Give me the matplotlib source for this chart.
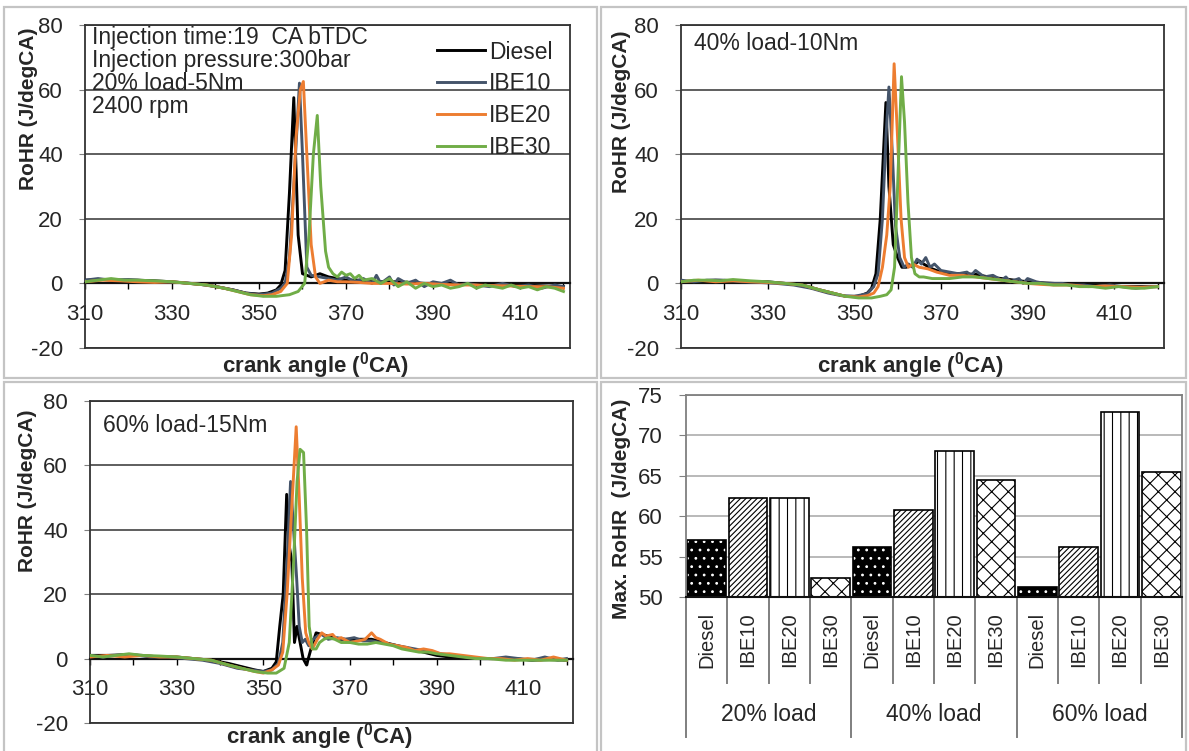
import numpy as np
import matplotlib.pyplot as plt
from matplotlib.patches import Rectangle
from matplotlib.transforms import blended_transform_factory

plt.rcParams['font.family'] = ['Liberation Sans', 'DejaVu Sans']
plt.rcParams['mathtext.fontset'] = 'custom'
plt.rcParams['mathtext.rm'] = 'Liberation Sans'
plt.rcParams['mathtext.bf'] = 'Liberation Sans:bold'
plt.rcParams['hatch.linewidth'] = 0.8
plt.rcParams['axes.unicode_minus'] = False

W, H = 1189, 751

# ---- data ----
fuels = ['Diesel', 'IBE10', 'IBE20', 'IBE30']
colors = ['#000000', '#44546A', '#ED7D31', '#70AD47']

# 20% load - 5 Nm
ang_d20 = [310, 314, 318, 322, 326, 330, 334, 338, 341, 344, 347, 350, 352, 354, 355, 356, 357, 358, 359, 360,
           361, 362, 364, 365, 366, 368, 370, 373, 376, 379, 382, 385, 388, 391, 394, 397, 400, 404, 408, 412, 416, 420]
rohr_d20 = [1, 1.2, 1, 1, 0.8, 0.5, 0, -0.5, -1.2, -2, -3, -3.3, -3, -2, -0.5, 4, 28, 57.5, 15, 3,
            2.5, 2, 3, 2.5, 2, 1.5, 1, 1, 0.5, 0.5, 0.5, 0.3, 0, 0, -0.2, -0.2, -0.3, -0.5, -0.5, -0.6, -0.8, -1]
ang_b20 = [310, 313, 316, 320, 324, 328, 332, 336, 340, 344, 347, 350, 353, 355, 356, 357, 358, 359.3, 360, 361,
           362, 364, 366, 368, 370, 372, 374, 376, 377, 378, 380, 381, 382, 384, 386, 388, 390, 392, 394, 396,
           398, 400, 403, 406, 409, 412, 415, 418, 420]
rohr_b20 = [1, 1.5, 1, 1.2, 0.8, 0.5, 0.3, -0.2, -1, -2, -3, -3.5, -3, -1.5, 0, 8, 30, 62, 40, 5,
            2.5, 2, 1.5, 1, 2, 0.5, 1.5, 0, 2.5, 0, 2, -0.5, 1.5, 0, 1, -1, 0.5, 0, 1, -0.5,
            0, -0.5, -1, 0, -1, -0.5, -1.5, -0.5, -1]
ang_o20 = [310, 314, 318, 322, 326, 330, 334, 338, 342, 345, 348, 351, 353, 355, 356.5, 357.5, 358.5, 359.5, 360.2,
           361, 362, 363, 364, 366, 368, 370, 373, 376, 380, 384, 388, 392, 396, 400, 404, 408, 412, 416, 420]
rohr_o20 = [0.5, 1, 0.8, 0.5, 0.3, 0.5, 0, -0.5, -1.5, -2.5, -3.5, -3.8, -3.5, -2.5, 0, 15, 45, 60, 62.5,
            40, 12, 2, 0, 1, 0.5, 0.5, 0.3, 0, 0, -0.2, 0, -0.3, -0.5, -0.5, -0.7, -0.8, -1, -1, -1.5]
ang_g20 = [310, 313, 316, 319, 322, 326, 330, 334, 338, 342, 345, 348, 351, 354, 357, 359, 360.5, 361.5, 362.5,
           363.4, 364.2, 365.3, 366, 367, 368, 369, 370, 371, 372, 373, 374, 376, 378, 380, 382, 384, 386, 388,
           390, 392, 394, 396, 398, 400, 402, 404, 406, 408, 410, 412, 414, 416, 418, 420]
rohr_g20 = [0.5, 1, 1.5, 1, 1, 0.8, 0.5, 0, -0.5, -1.5, -2.5, -3.5, -4, -4, -3.5, -2.5, 0, 15, 40,
            52, 30, 10, 5, 3, 2, 3.5, 2.5, 3, 1.5, 2.5, 1, 1.5, 0, 1.5, -1, 0.5, -1.5, 0,
            -1, -0.5, -1.5, -1, 0, -1.5, -0.5, -1, -1.5, -0.5, -1.5, -1, -2, -1, -1.5, -2.5]

# 40% load - 10 Nm
ang_d40 = [310, 314, 318, 322, 326, 330, 334, 338, 342, 345, 348, 351, 353, 354, 355, 356, 357.3, 358, 359, 360,
           361, 362, 363, 364, 365, 366, 368, 370, 372, 375, 378, 381, 384, 387, 390, 393, 396, 400, 404, 408,
           412, 416, 420]
rohr_d40 = [0.5, 0.8, 1, 0.8, 0.5, 0.5, 0, -0.5, -2, -3, -4, -4, -3, -1.5, 3, 20, 56, 30, 12, 8,
            5, 5, 5.5, 6, 7, 6, 4.5, 3.5, 3, 3, 2.8, 2, 1.5, 1, 0.5, 0.2, 0, -0.3, -0.5, -0.8,
            -1, -1, -1]
ang_b40 = [310, 313, 316, 320, 324, 328, 332, 336, 340, 344, 347, 350, 353, 354.5, 355.5, 356.5, 357.3, 358, 358.8,
           359.5, 360.5, 361.5, 362.5, 363.5, 364.5, 365.5, 366.5, 367.5, 368.5, 370, 372, 374, 376, 377, 378,
           380, 382, 384, 385, 386, 388, 389, 390, 392, 394, 396, 398, 400, 403, 406, 409, 412, 415, 418, 420]
rohr_b40 = [1, 0.5, 1, 1, 0.5, 0.3, 0, -0.5, -1.5, -3, -3.8, -4, -3.2, -1, 3, 20, 45, 60.8, 40,
            18, 8, 5, 6, 5, 7.5, 6, 8, 5, 6, 4, 3.5, 3, 3.5, 2.5, 4,
            2, 2.5, 1, 2, 0.5, 1.5, 0, 1.5, 0.5, 0, 0, 0, -0.5, -0.5, -1, -0.5, -1, -1.5, -1, -1]
ang_o40 = [310, 314, 318, 322, 326, 330, 334, 338, 342, 345, 348, 351, 353, 354.5, 355.5, 356.5, 357.5, 358.3,
           359.2, 360, 360.8, 361.6, 362.5, 363.5, 365, 367, 369, 372, 375, 378, 381, 384, 387, 390, 393, 396,
           400, 404, 408, 412, 416, 420]
rohr_o40 = [0.5, 1, 0.5, 0.8, 0.5, 0.3, 0, -0.5, -2, -3, -4, -4.2, -3.8, -3, -1, 5, 15, 30,
            68, 45, 20, 8, 5, 6, 5, 4.5, 3.5, 2.5, 2.5, 2, 1.5, 1, 0.5, 0, -0.3, -0.5,
            -0.5, -1, -0.8, -1, -1.2, -1]
ang_g40 = [310, 313, 316, 319, 322, 326, 330, 334, 338, 342, 345, 348, 351, 354, 356, 357.5, 358.5, 359.3, 360,
           360.9, 361.6, 362.4, 363.2, 364, 365, 366, 368, 370, 372, 375, 378, 381, 384, 387, 390, 393, 396,
           399, 402, 405, 408, 411, 414, 417, 420]
rohr_g40 = [0.5, 1, 1, 0.8, 1.2, 0.8, 0.5, 0, -0.5, -2, -3, -4, -4.5, -4.5, -4, -3.5, -2, 5, 30,
            64, 50, 25, 8, 3, 2, 2, 1.5, 1.5, 1.5, 2, 2, 1.5, 1, 0.5, 0, 0, -0.5,
            -0.5, -1, -1, -1.5, -1, -1.5, -1.5, -1]

# 60% load - 15 Nm
ang_d60 = [310, 314, 318, 322, 326, 330, 334, 338, 342, 345, 348, 350, 352, 353, 353.8, 354.6, 355.4, 356, 356.6,
           357.2, 357.8, 358.5, 359.2, 360, 361, 362.2, 363.5, 365, 367, 369, 372, 375, 378, 381, 384, 387,
           390, 393, 396, 400, 404, 408, 412, 416, 420]
rohr_d60 = [1, 1, 1.2, 1, 0.5, 0.5, 0, -0.5, -1.5, -2.5, -3.5, -4, -3, -1, 10, 20, 51, 35, 30,
            5, 10, 5, 0, -2, 3, 8, 7.5, 7, 6, 6, 6, 6, 5, 4, 3, 2,
            1, 0.5, 0.5, 0, 0, 0, -0.5, -0.3, -0.5]
ang_b60 = [310, 313, 316, 320, 324, 328, 332, 336, 340, 344, 347, 350, 352, 353.5, 354.5, 355.5, 356.3, 357,
           357.7, 358.3, 359, 359.7, 360.5, 361.5, 362.5, 363.5, 365, 367, 369, 371, 373, 375, 377, 379, 381,
           383, 385, 387, 389, 391, 394, 397, 400, 403, 406, 409, 412, 415, 418, 420]
rohr_b60 = [1, 0.5, 1, 1.2, 0.5, 0.5, 0, -0.5, -1.5, -3, -3.5, -4, -3.5, -1.5, 5, 30, 55, 40,
            25, 10, 5, 6, 4, 6, 7, 7.5, 6, 6.5, 6, 6.5, 5.5, 5.5, 5, 4.5, 4,
            3.5, 3, 2.5, 2, 1.5, 1, 0.5, 0, 0, 0.5, 0, -0.5, 0.5, -0.5, 0]
ang_o60 = [310, 314, 318, 322, 326, 330, 334, 338, 342, 345, 348, 350, 352, 353.5, 354.5, 355.5, 356.5, 357.6,
           358.3, 359, 359.8, 360.5, 361.3, 362.5, 363.5, 364.5, 366, 367, 368, 370, 372, 373.5, 375, 376,
           377, 379, 381, 383, 385, 387, 389, 391, 393, 396, 399, 402, 405, 408, 411, 414, 417, 420]
rohr_o60 = [0.5, 1, 0.5, 1, 0.5, 0.5, 0, -0.5, -2, -3, -4, -4.5, -3.5, -2, 2, 20, 45, 72,
            50, 25, 8, 5, 3, 6, 8, 7, 7.5, 6, 6.5, 5, 5.5, 6, 8, 6.5,
            6, 4.5, 4, 3.5, 2.5, 3, 2.5, 1.5, 1.5, 1, 0.5, 0, 0, -0.5, 0, -0.5, 0.5, -0.5]
ang_g60 = [310, 313, 316, 319, 322, 326, 330, 334, 338, 342, 345, 348, 351, 353, 354.8, 356, 357, 357.8, 358.5,
           359.3, 360, 360.6, 361.4, 362.2, 363, 364, 365, 366.5, 368, 370, 372, 374, 376, 378, 380, 382,
           384, 386, 388, 390, 393, 396, 399, 402, 406, 410, 414, 418, 420]
rohr_g60 = [1, 0.5, 1, 1.5, 1, 0.8, 0.5, 0, -0.5, -2, -3, -4, -4.5, -4.5, -3, 5, 30, 55, 65,
            64, 40, 10, 3, 3, 5, 6, 6.5, 6, 5, 5, 4.5, 4.5, 5, 4.5, 4, 3,
            2.5, 2, 2, 1.5, 1, 0.5, 0, 0, -0.5, -0.5, -0.5, -0.5, -0.5]

# maximum RoHR bar chart
loads = ['20% load', '40% load', '60% load']
max_20 = [57.1, 62.2, 62.3, 52.4]
max_40 = [56.2, 60.8, 68.1, 64.5]
max_60 = [51.2, 56.2, 72.9, 65.5]

TXT = '#262626'

fig = plt.figure(figsize=(W / 100, H / 100), dpi=100)


def px_axes(left, top, right, bottom):
    return fig.add_axes([left / W, 1 - bottom / H, (right - left) / W, (bottom - top) / H])


# grey panel frames
for (l, t, r, b) in [(4, 7, 597, 378), (601, 7, 1186, 378), (4, 382, 597, 770), (601, 382, 1186, 770)]:
    fig.patches.append(Rectangle((l / W, 1 - b / H), (r - l) / W, (b - t) / H, transform=fig.transFigure,
                                 fill=False, ec='#c4c4c4', lw=1.6))


def rohr_panel(ax, curves, ylab_xy, xlab_y):
    for (ang, val), name, col in zip(curves, fuels, colors):
        ax.plot(ang, val, color=col, lw=2.1, label=name, zorder=3)
    ax.set_xlim(310, 421.5)
    ax.set_ylim(-20, 80)
    ax.set_xticks(range(310, 411, 20))
    ax.set_xticks(range(320, 421, 20), minor=True)
    ax.set_yticks(range(-20, 81, 20))
    ax.spines['bottom'].set_position(('data', 0))
    ax.spines['bottom'].set_linewidth(1.6)
    ax.spines['bottom'].set_color('#111111')
    for s in ['top', 'left', 'right']:
        ax.spines[s].set_color('#333333')
        ax.spines[s].set_linewidth(1.3)
    ax.axhline(-20, color='#333333', lw=1.3, clip_on=False)
    ax.grid(axis='y', color='#333333', lw=1.1)
    ax.set_axisbelow(True)
    ax.tick_params(axis='x', which='both', direction='out', length=4, width=1, pad=11,
                   labelsize=16, labelcolor=TXT)
    ax.tick_params(axis='y', length=4, color='#808080', pad=12, labelsize=16, labelcolor=TXT)
    ax.set_ylabel('RoHR (J/degCA)', fontsize=15, fontweight='bold', color=TXT)
    ax.yaxis.set_label_coords(*ylab_xy)
    ax.text(0.475, xlab_y, r'crank angle ($\mathbf{^0}$CA)', transform=ax.transAxes, fontsize=16,
            fontweight='bold', color=TXT, ha='center', va='center')


ax1 = px_axes(85, 25, 570, 348)
rohr_panel(ax1, [(ang_d20, rohr_d20), (ang_b20, rohr_b20), (ang_o20, rohr_o20), (ang_g20, rohr_g20)],
           (-0.097, 0.74), -0.053)
notes = ['Injection time:19  CA bTDC', 'Injection pressure:300bar', '20% load-5Nm', '2400 rpm']
for k, s in enumerate(notes):
    ax1.text(0.015, (348 - (37 + 23.3 * k)) / 323, s, transform=ax1.transAxes, fontsize=16.5,
             color=TXT, va='center', ha='left')
ax1.legend(loc='upper left', bbox_to_anchor=(0.726, 0.952), frameon=False, fontsize=16.5,
           handlelength=2.1, handletextpad=0.15, labelspacing=0.38, borderpad=0, borderaxespad=0,
           labelcolor=TXT)

ax2 = px_axes(681, 25, 1164, 348)
rohr_panel(ax2, [(ang_d40, rohr_d40), (ang_b40, rohr_b40), (ang_o40, rohr_o40), (ang_g40, rohr_g40)],
           (-0.104, 0.73), -0.053)
ax2.text(0.027, (348 - 43) / 323, '40% load-10Nm', transform=ax2.transAxes, fontsize=16.5,
         color=TXT, va='center', ha='left')

ax3 = px_axes(90, 401, 573, 723)
rohr_panel(ax3, [(ang_d60, rohr_d60), (ang_b60, rohr_b60), (ang_o60, rohr_o60), (ang_g60, rohr_g60)],
           (-0.11, 0.72), -0.041)
ax3.text(0.027, (723 - 425) / 322, '60% load-15Nm', transform=ax3.transAxes, fontsize=16.5,
         color=TXT, va='center', ha='left')

# bar chart of peak RoHR
axb = px_axes(686, 395, 1182, 597)
vals = max_20 + max_40 + max_60
names = fuels * len(loads)
hatches = ['..', '//////', '||', 'xx']
for i, v in enumerate(vals):
    k = i % 4
    if k == 0:
        axb.bar(i, v - 50, bottom=50, width=0.94, color='black', edgecolor='white', hatch=hatches[k], lw=0)
        axb.bar(i, v - 50, bottom=50, width=0.94, fill=False, edgecolor='black', lw=1.2)
    else:
        axb.bar(i, v - 50, bottom=50, width=0.94, color='white', edgecolor='black', hatch=hatches[k], lw=1.2)
axb.set_xlim(-0.5, len(vals) - 0.5)
axb.set_ylim(50, 75)
axb.set_yticks(range(50, 76, 5))
axb.set_xticks([])
axb.grid(axis='y', color='#a6a6a6', lw=1.1)
axb.set_axisbelow(True)
for s in ['top', 'left', 'right']:
    axb.spines[s].set_color('#7f7f7f')
    axb.spines[s].set_linewidth(1.3)
axb.spines['bottom'].set_color('#111111')
axb.spines['bottom'].set_linewidth(1.5)
axb.tick_params(axis='y', length=5, color='#808080', pad=12, labelsize=16, labelcolor=TXT)
axb.set_ylabel('Max. RoHR  (J/degCA)', fontsize=15, fontweight='bold', color=TXT)
axb.yaxis.set_label_coords(-0.111, 0.436)

tr = blended_transform_factory(axb.transData, axb.transAxes)
for i, name in enumerate(names):
    axb.text(i, -0.075, name, rotation=90, transform=tr, ha='center', va='top', fontsize=14.5, color=TXT)
for i in range(len(vals) + 1):
    low = -0.693 if i % 4 == 0 else -0.426
    axb.plot([i - 0.5, i - 0.5], [0, low], transform=tr, color='#7f7f7f', lw=1.4, clip_on=False)
for g, lab in enumerate(loads):
    axb.text(4 * g + 1.5, -0.584, lab, transform=tr, ha='center', va='center', fontsize=16.5, color=TXT)

fig.savefig('out.png', dpi=100)
